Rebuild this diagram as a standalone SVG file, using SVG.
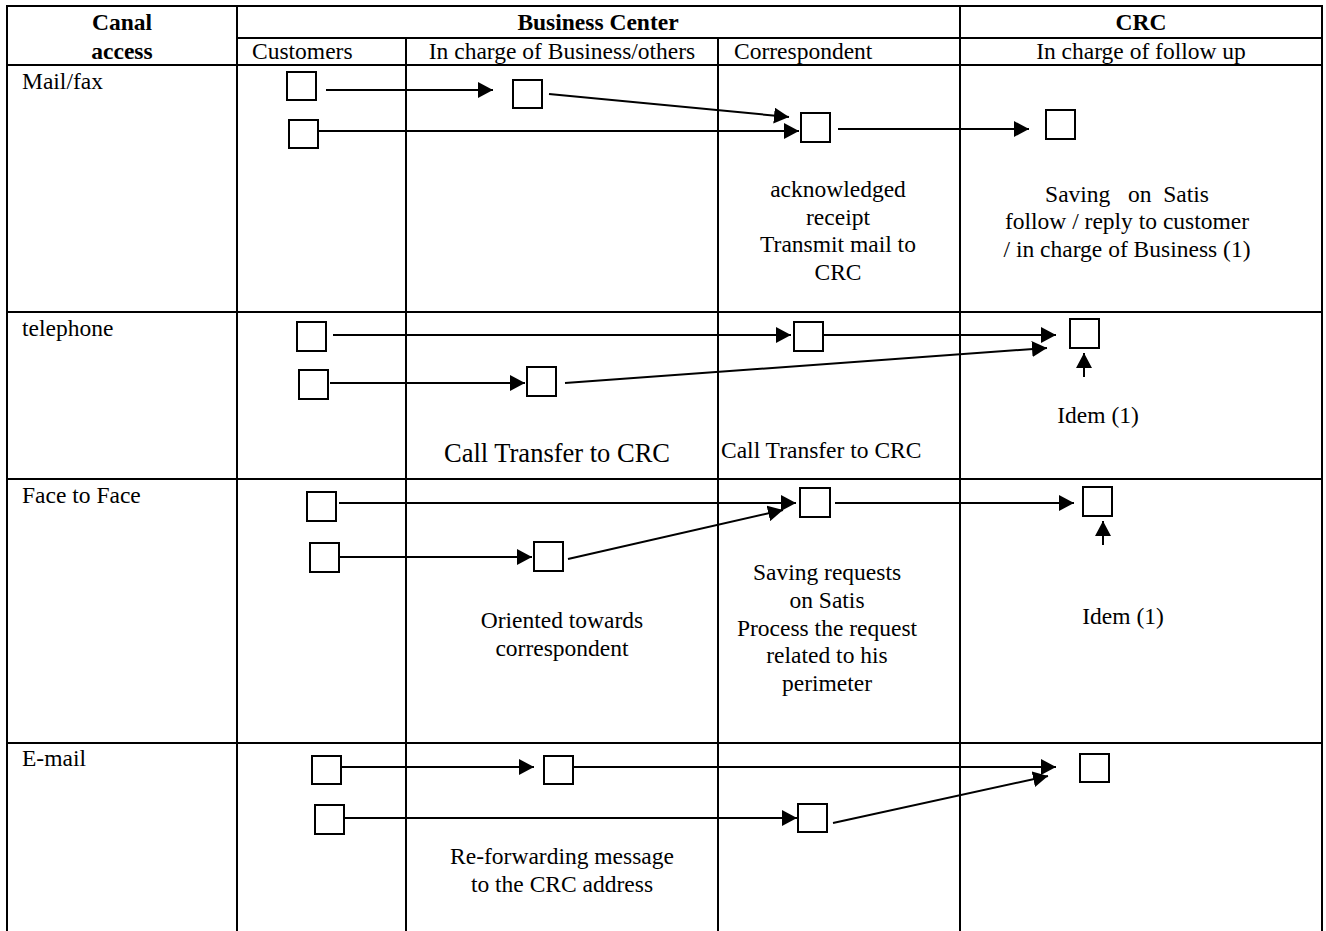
<svg xmlns="http://www.w3.org/2000/svg" width="1326" height="931" viewBox="0 0 1326 931">
<style>
  text { font-family: "Liberation Serif", "Times New Roman", serif; font-size: 23.5px; fill: #000; }
  .b { font-weight: bold; }
  .c { text-anchor: middle; }
  .big { font-size: 26.5px; }
  .grid line { stroke: #000; stroke-width: 2; }
  .node rect { fill: #fff; stroke: #000; stroke-width: 2; }
  .conn line { stroke: #000; stroke-width: 2; marker-end: url(#arr); }
</style>
<defs>
  <marker id="arr" markerUnits="userSpaceOnUse" markerWidth="15" markerHeight="16" refX="15" refY="8" orient="auto" viewBox="0 0 15 16">
    <path d="M0,0 L15,8 L0,16 z" fill="#000"/>
  </marker>
</defs>
<rect width="1326" height="931" fill="#fff"/>
<g id="table" class="grid">
  <line x1="6" y1="6" x2="1323" y2="6"/>
  <line x1="237" y1="38" x2="1323" y2="38"/>
  <line x1="6" y1="65" x2="1323" y2="65"/>
  <line x1="6" y1="312" x2="1323" y2="312"/>
  <line x1="6" y1="479" x2="1323" y2="479"/>
  <line x1="6" y1="743" x2="1323" y2="743"/>
  <line x1="7" y1="5" x2="7" y2="931"/>
  <line x1="237" y1="5" x2="237" y2="931"/>
  <line x1="406" y1="38" x2="406" y2="931"/>
  <line x1="718" y1="38" x2="718" y2="931"/>
  <line x1="960" y1="5" x2="960" y2="931"/>
  <line x1="1322" y1="5" x2="1322" y2="931"/>
</g>
<g id="headers">
  <text class="b c" x="122" y="30">Canal</text>
  <text class="b c" x="122" y="59">access</text>
  <text class="b c" x="598" y="30">Business Center</text>
  <text class="b c" x="1141" y="30">CRC</text>
  <text x="252" y="59">Customers</text>
  <text class="c" x="562" y="59">In charge of Business/others</text>
  <text x="734" y="59">Correspondent</text>
  <text class="c" x="1141" y="59">In charge of follow up</text>
</g>
<g id="row-labels">
  <text x="22" y="89">Mail/fax</text>
  <text x="22" y="336">telephone</text>
  <text x="22" y="503">Face to Face</text>
  <text x="22" y="766">E-mail</text>
</g>
<g id="connectors" class="conn">
  <line x1="326" y1="90" x2="493" y2="90"/>
  <line x1="549" y1="94" x2="789" y2="117"/>
  <line x1="319" y1="131" x2="799" y2="131"/>
  <line x1="838" y1="129" x2="1029" y2="129"/>
  <line x1="333" y1="335" x2="791" y2="335"/>
  <line x1="330" y1="383" x2="525" y2="383"/>
  <line x1="565" y1="383" x2="1047" y2="348"/>
  <line x1="824" y1="335" x2="1056" y2="335"/>
  <line x1="1084" y1="377" x2="1084" y2="353"/>
  <line x1="339" y1="503" x2="796" y2="503"/>
  <line x1="340" y1="557" x2="532" y2="557"/>
  <line x1="568" y1="559" x2="783" y2="510"/>
  <line x1="835" y1="503" x2="1074" y2="503"/>
  <line x1="1103" y1="545" x2="1103" y2="521"/>
  <line x1="342" y1="767" x2="534" y2="767"/>
  <line x1="574" y1="767" x2="1056" y2="767"/>
  <line x1="345" y1="818" x2="797" y2="818"/>
  <line x1="833" y1="823" x2="1048" y2="776"/>
</g>
<g id="mail-customer-1" class="node"><rect x="287" y="72" width="29" height="28"/></g>
<g id="mail-business" class="node"><rect x="513" y="80" width="29" height="28"/></g>
<g id="mail-customer-2" class="node"><rect x="289" y="120" width="29" height="28"/></g>
<g id="mail-correspondent" class="node"><rect x="801" y="113" width="29" height="29"/></g>
<g id="mail-crc" class="node"><rect x="1046" y="110" width="29" height="29"/></g>
<g id="tel-customer-1" class="node"><rect x="297" y="322" width="29" height="29"/></g>
<g id="tel-customer-2" class="node"><rect x="299" y="370" width="29" height="29"/></g>
<g id="tel-business" class="node"><rect x="527" y="367" width="29" height="29"/></g>
<g id="tel-correspondent" class="node"><rect x="794" y="322" width="29" height="29"/></g>
<g id="tel-crc" class="node"><rect x="1070" y="319" width="29" height="29"/></g>
<g id="f2f-customer-1" class="node"><rect x="307" y="492" width="29" height="29"/></g>
<g id="f2f-customer-2" class="node"><rect x="310" y="543" width="29" height="29"/></g>
<g id="f2f-business" class="node"><rect x="534" y="542" width="29" height="29"/></g>
<g id="f2f-correspondent" class="node"><rect x="800" y="488" width="30" height="29"/></g>
<g id="f2f-crc" class="node"><rect x="1083" y="487" width="29" height="29"/></g>
<g id="email-customer-1" class="node"><rect x="312" y="756" width="29" height="28"/></g>
<g id="email-business" class="node"><rect x="544" y="756" width="29" height="28"/></g>
<g id="email-customer-2" class="node"><rect x="315" y="805" width="29" height="29"/></g>
<g id="email-correspondent" class="node"><rect x="798" y="804" width="29" height="28"/></g>
<g id="email-crc" class="node"><rect x="1080" y="754" width="29" height="28"/></g>
<g id="annotations">
  <text class="c" x="838" y="197">acknowledged</text>
  <text class="c" x="838" y="224.5">receipt</text>
  <text class="c" x="838" y="252">Transmit mail to</text>
  <text class="c" x="838" y="280">CRC</text>
  <text class="c" x="1127" y="202" xml:space="preserve">Saving   on  Satis</text>
  <text class="c" x="1127" y="229">follow / reply to customer</text>
  <text class="c" x="1127" y="257">/ in charge of Business (1)</text>
  <text class="c" x="1098" y="423">Idem (1)</text>
  <text class="c big" x="557" y="462">Call Transfer to CRC</text>
  <text x="721" y="458">Call Transfer to CRC</text>
  <text class="c" x="827" y="580">Saving requests</text>
  <text class="c" x="827" y="607.5">on Satis</text>
  <text class="c" x="827" y="635.5">Process the request</text>
  <text class="c" x="827" y="663">related to his</text>
  <text class="c" x="827" y="691">perimeter</text>
  <text class="c" x="562" y="628">Oriented towards</text>
  <text class="c" x="562" y="656">correspondent</text>
  <text class="c" x="1123" y="624">Idem (1)</text>
  <text class="c" x="562" y="864">Re-forwarding message</text>
  <text class="c" x="562" y="892">to the CRC address</text>
</g>
</svg>
